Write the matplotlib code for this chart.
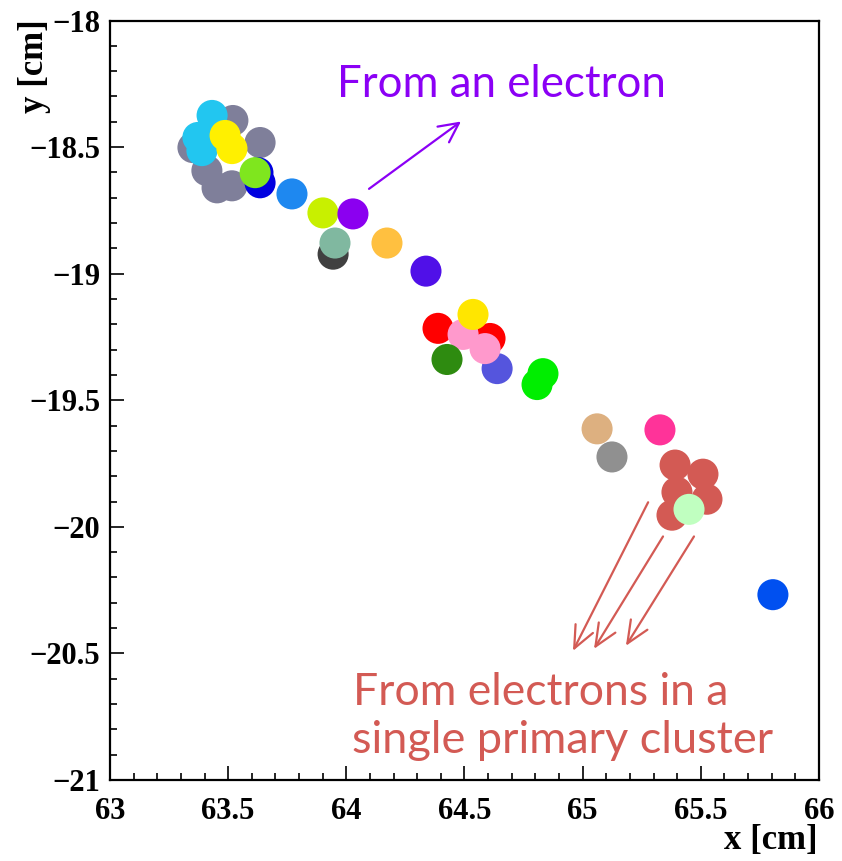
import matplotlib
matplotlib.use("Agg")
import matplotlib.pyplot as plt
from matplotlib.ticker import MultipleLocator, FuncFormatter

# blob centres [cm], drawn in this order (later ones on top)
blob_x = [63.351, 63.520, 63.635, 63.453, 63.410, 63.516,
          63.432, 63.389, 63.372,
          63.487, 63.516,
          63.626, 63.635, 63.614,
          63.770, 63.901, 64.028,
          63.944, 63.952,
          64.172, 64.337,
          64.388, 64.608, 64.494, 64.536,
          64.426, 64.638, 64.587,
          64.832, 64.807,
          65.061, 65.124, 65.327,
          65.391, 65.509, 65.526, 65.378, 65.399,
          65.450, 65.805]
blob_y = [-18.502, -18.395, -18.482, -18.661, -18.593, -18.653,
          -18.375, -18.514, -18.462,
          -18.454, -18.506,
          -18.601, -18.641, -18.601,
          -18.685, -18.760, -18.764,
          -18.923, -18.879,
          -18.879, -18.990,
          -19.216, -19.256, -19.240, -19.161,
          -19.339, -19.375, -19.296,
          -19.395, -19.438,
          -19.613, -19.724, -19.617,
          -19.756, -19.792, -19.891, -19.954, -19.863,
          -19.931, -20.268]
blob_color = ['#7f7f9a'] * 6 + \
             ['#22c6f0'] * 3 + \
             ['#fff000'] * 2 + \
             ['#0000e0', '#0000e0', '#7fe61e'] + \
             ['#1e88f0', '#c8f000', '#8b00f0'] + \
             ['#404040', '#80b8a0'] + \
             ['#ffc040', '#5010e8'] + \
             ['#ff0000', '#ff0000', '#ff99cc', '#ffe600'] + \
             ['#2e8b10', '#5555dd', '#ff99cc'] + \
             ['#00ee00', '#00ee00'] + \
             ['#ddb080', '#909090', '#ff3399'] + \
             ['#d35a54'] * 5 + \
             ['#c0ffc0', '#0050f0']

electron_arrow = ((64.096, -18.665), (64.485, -18.399))
cluster_arrows = [((65.277, -19.903), (64.959, -20.490)),
                  ((65.340, -20.038), (65.048, -20.482)),
                  ((65.471, -20.038), (65.183, -20.470))]

purple = '#8b00f5'
red = '#d35a54'

fig = plt.figure(figsize=(8.42, 8.61), dpi=100)
ax = fig.add_axes([0.13064, 0.09408, 0.84204, 0.88211])

ax.scatter(blob_x, blob_y, s=500, c=blob_color, linewidths=0, zorder=2)

ax.set_xlim(63, 66)
ax.set_ylim(-21, -18)

# ROOT-like frame and ticks
for sp in ax.spines.values():
    sp.set_linewidth(1.6)
ax.xaxis.set_major_locator(MultipleLocator(0.5))
ax.xaxis.set_minor_locator(MultipleLocator(0.1))
ax.yaxis.set_major_locator(MultipleLocator(0.5))
ax.yaxis.set_minor_locator(MultipleLocator(0.1))
fmt = FuncFormatter(lambda v, pos: ('%g' % v).replace('-', '\u2212'))
ax.xaxis.set_major_formatter(fmt)
ax.yaxis.set_major_formatter(fmt)
ax.tick_params(which='both', direction='in', top=False, right=False, width=1.2)
ax.tick_params(which='major', length=10)
ax.tick_params(which='minor', length=5)
ax.tick_params(axis='x', which='major', pad=12)
ax.tick_params(axis='y', which='major', pad=7)
for lab in ax.get_xticklabels() + ax.get_yticklabels():
    lab.set_fontfamily('Liberation Serif')
    lab.set_fontweight('bold')
    lab.set_fontsize(22)

fig.text(0.9715, 0.005, 'x [cm]', ha='right', va='bottom',
         fontfamily='Liberation Serif', fontweight='bold', fontsize=25)
fig.text(0.021, 0.978, 'y [cm]', ha='left', va='top', rotation=90,
         fontfamily='Liberation Serif', fontweight='bold', fontsize=25)

# annotations
ax.annotate('', xy=electron_arrow[1], xytext=electron_arrow[0],
            arrowprops=dict(arrowstyle='->,head_length=0.7,head_width=0.35',
                            color=purple, lw=1.6, mutation_scale=20,
                            shrinkA=0, shrinkB=0), zorder=3)
ax.text(63.96, -18.304, 'From an electron', color=purple, fontfamily='Lato',
        fontsize=31.5, va='baseline', ha='left', zorder=3)

for start, end in cluster_arrows:
    ax.annotate('', xy=end, xytext=start,
                arrowprops=dict(arrowstyle='->,head_length=0.8,head_width=0.35',
                                color=red, lw=1.6, mutation_scale=20,
                                shrinkA=0, shrinkB=0), zorder=3)
ax.text(64.028, -20.704, 'From electrons in a', color=red, fontfamily='Lato',
        fontsize=32, va='baseline', ha='left', zorder=3)
ax.text(64.024, -20.895, 'single primary cluster', color=red, fontfamily='Lato',
        fontsize=32.5, va='baseline', ha='left', zorder=3)

fig.savefig('out.png', dpi=100)
